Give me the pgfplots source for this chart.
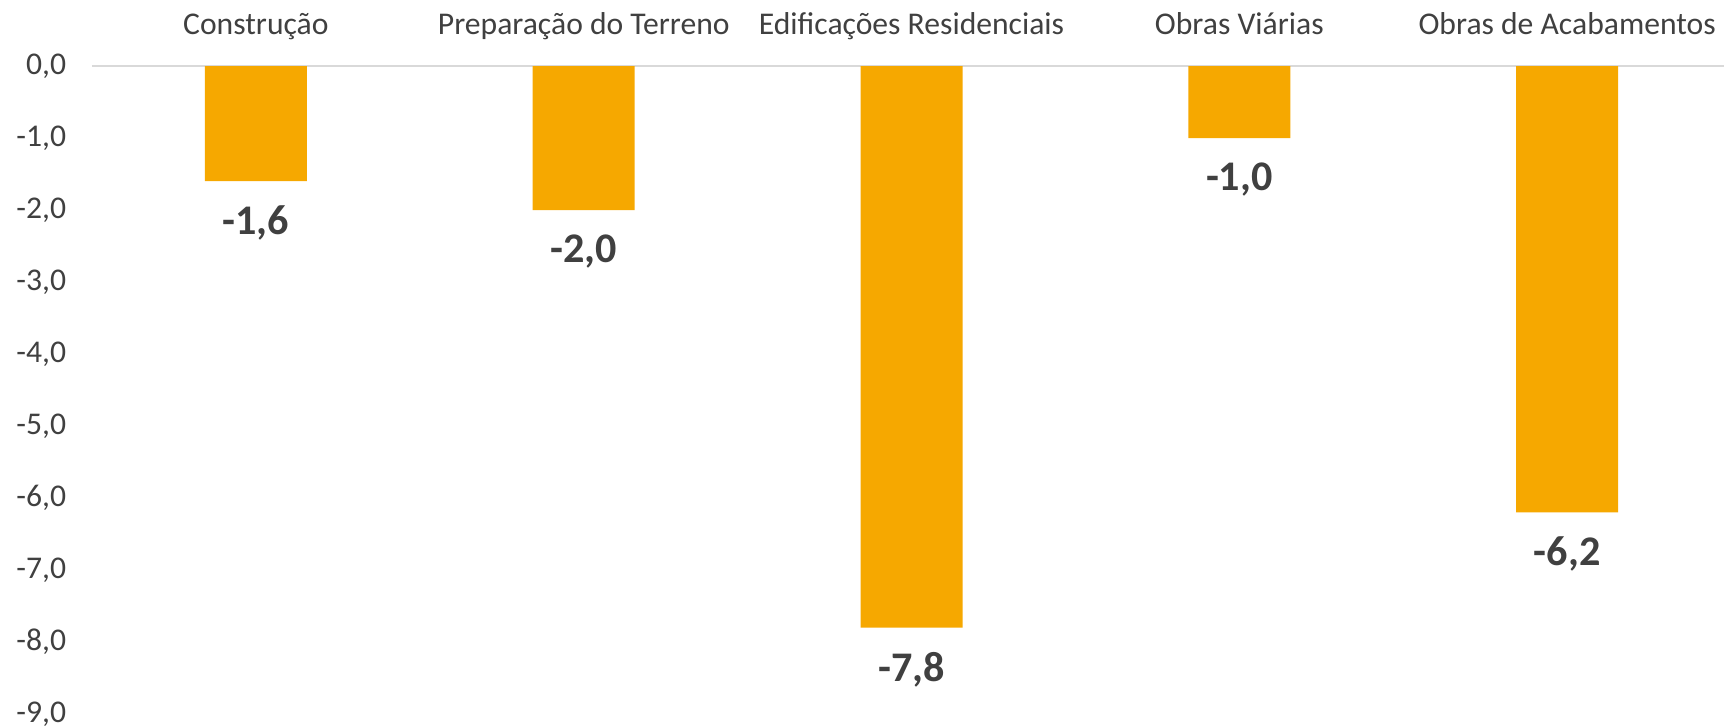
\documentclass[border=0pt]{standalone}
\usepackage{fontspec}
\setmainfont{Carlito}
\usepackage{pgfplots}
\pgfplotsset{compat=1.18}
\definecolor{barorange}{HTML}{F6A800}
\definecolor{txtgray}{HTML}{404040}
\definecolor{linegray}{HTML}{D9D9D9}

\begin{document}
\begin{tikzpicture}
\begin{axis}[
    at={(9.2mm,1.4mm)}, anchor=south west,
    scale only axis,
    width=163.9mm,
    height=64.8mm,
    ybar,
    bar width=10.2mm,
    xmin=-0.5, xmax=4.5,
    ymin=-9, ymax=0,
    enlargelimits=false,
    axis x line*=top,
    axis y line*=left,
    x axis line style={draw=linegray, line width=0.2mm, -},
    y axis line style={draw=none},
    tick style={draw=none},
    xtick={0,1,2,3,4},
    xticklabels={Construção, Preparação do Terreno, Edificações Residenciais, Obras Viárias, Obras de Acabamentos},
    xticklabel style={font=\fontsize{9}{11}\selectfont, text=txtgray, anchor=base, yshift=1.7mm},
    ytick={-9,-8,...,0},
    yticklabel style={font=\fontsize{9}{11}\selectfont, text=txtgray, anchor=east, xshift=-1.35mm},
    /pgf/number format/assume math mode=true,
    /pgf/number format/.cd, use comma, fixed, fixed zerofill, precision=1, 1000 sep={},
    /pgfplots/.cd,
    nodes near coords,
    every node near coord/.append style={font=\fontsize{12}{14}\bfseries, text=txtgray, anchor=north, yshift=-1.2mm},
]
\addplot[fill=barorange, draw=none] coordinates {(0,-1.6) (1,-2.0) (2,-7.8) (3,-1.0) (4,-6.2)};
\end{axis}
\pgfresetboundingbox
\path[use as bounding box] (0,0) rectangle (172.4mm,72.8mm);
\end{tikzpicture}
\end{document}
